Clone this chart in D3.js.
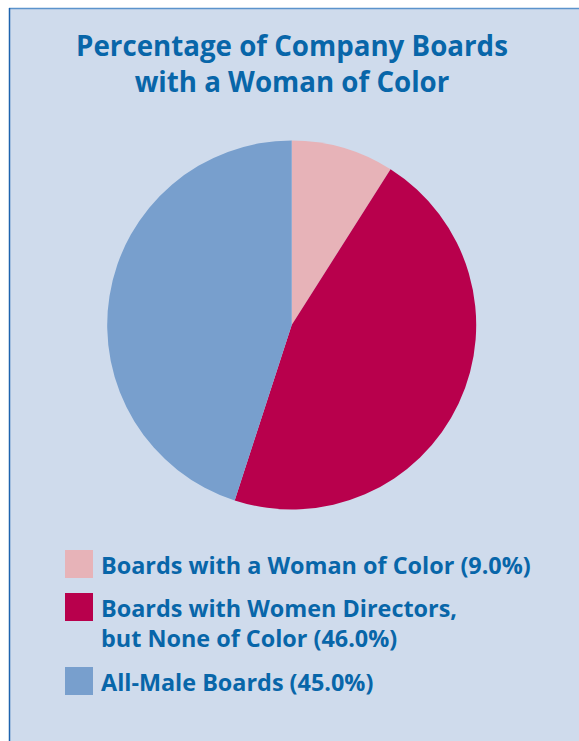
<!DOCTYPE html>
<html>
<head>
<meta charset="utf-8">
<script src="https://cdn.jsdelivr.net/npm/d3@7"></script>
<style>
  html, body { margin: 0; padding: 0; background: #ffffff; }
  svg { display: block; }
</style>
</head>
<body>
<svg id="chart" width="579" height="741"></svg>
<script>
// Board composition shares (percent of companies)
const categories = [
  "Boards with a Woman of Color",
  "Boards with Women Directors, but None of Color",
  "All-Male Boards"
];
const values = [9.0, 46.0, 45.0];
const colors = ["#e7b3b8", "#b8004c", "#789fcd"];
// Legend label lines (the value is appended to the last line)
const labelLines = [
  ["Boards with a Woman of Color"],
  ["Boards with Women Directors,", "but None of Color"],
  ["All-Male Boards"]
];
const titleLines = ["Percentage of Company Boards", "with a Woman of Color"];

const W = 579, H = 741;
const textColor = "#0866a9";
const fontFamily = "'Open Sans', 'DejaVu Sans', sans-serif";

const svg = d3.select("#chart");

// Panel background with frame lines on top and left
svg.append("rect")
  .attr("x", 9).attr("y", 8)
  .attr("width", W - 9).attr("height", H - 8)
  .attr("fill", "#cfdbec");
svg.append("line")
  .attr("x1", 9).attr("x2", W).attr("y1", 8.5).attr("y2", 8.5)
  .attr("stroke", "#5b93cc").attr("stroke-width", 1.5);
svg.append("line")
  .attr("x1", 9.5).attr("x2", 9.5).attr("y1", 8).attr("y2", H)
  .attr("stroke", "#1d63ae").attr("stroke-width", 1.5);

// Title
svg.append("text")
  .attr("text-anchor", "middle")
  .attr("font-family", fontFamily)
  .attr("font-weight", 700)
  .attr("font-size", 27.7)
  .attr("fill", textColor)
  .selectAll("tspan")
  .data(titleLines)
  .join("tspan")
  .attr("x", 292)
  .attr("y", (d, i) => 56 + i * 35.7)
  .text(d => d);

// Pie
const cx = 291.7, cy = 325, r = 184.5;
const pie = d3.pie().sort(null).value(d => d);
const arc = d3.arc().innerRadius(0).outerRadius(r);

svg.append("g")
  .attr("transform", `translate(${cx},${cy})`)
  .selectAll("path")
  .data(pie(values))
  .join("path")
  .attr("d", arc)
  .attr("fill", (d, i) => colors[i]);

// Legend
const legendTop = [550, 593, 667];
const lineGap = 30;
const legend = svg.append("g");
categories.forEach((c, i) => {
  const g = legend.append("g");
  g.append("rect")
    .attr("x", 65).attr("y", legendTop[i])
    .attr("width", 28).attr("height", 28)
    .attr("fill", colors[i]);
  const lines = labelLines[i].slice();
  lines[lines.length - 1] = lines[lines.length - 1] + ` (${values[i].toFixed(1)}%)`;
  const t = g.append("text")
    .attr("font-family", fontFamily)
    .attr("font-weight", 700)
    .attr("font-size", 23.4)
    .attr("fill", textColor);
  t.selectAll("tspan")
    .data(lines)
    .join("tspan")
    .attr("x", 101)
    .attr("y", (d, j) => legendTop[i] + 23.5 + j * lineGap)
    .text(d => d);
});
</script>
</body>
</html>
